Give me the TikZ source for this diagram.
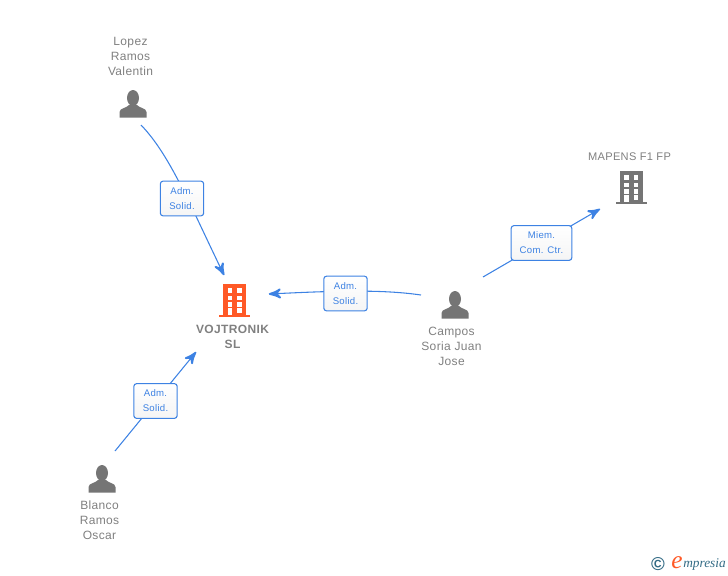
\documentclass[tikz,border=0pt]{standalone}
\usepackage{fontspec}
\setmainfont{Liberation Sans}[LetterSpace=3]
\newfontfamily\logofont{Liberation Serif}
\usetikzlibrary{arrows}
\usetikzlibrary{decorations.markings}
\definecolor{mblue}{rgb}{0.24, 0.51, 0.89}
\definecolor{mgrey}{rgb}{0.46, 0.46, 0.46}
\definecolor{mtext}{rgb}{0.5, 0.5, 0.5}
\definecolor{morange}{rgb}{1, 0.35, 0.15}
\definecolor{mteal}{rgb}{0.2, 0.42, 0.52}
\tikzset{linkarrow/.style = {decoration={markings,
                                         mark=at position 1 with {\arrow[scale=1.8]{stealth'}}},
                             postaction={decorate}}}
\tikzset{link/.style = {mblue, line width=0.8pt}}
\tikzset{rolebox/.style = {draw=mblue, line width=0.8pt, rounded corners=2pt, top color=white, bottom color=black!4,
                           text=mblue, align=center, inner sep=0pt, minimum height=26pt, minimum width=32.5pt,
                           font=\fontsize{7.2}{11.25}\selectfont}}
\tikzset{iconspot/.style = {circle, inner sep=0pt, minimum size=24pt}}
\tikzset{caption/.style = {text=mtext, align=center, inner sep=0pt, font=\fontsize{9}{11.25}\selectfont}}
\tikzset{pics/person/.style = {code={
  \fill [mgrey] (0, -6) ellipse (6 and 8);
  \fill [mgrey] (-13.5, 13.5) -- (-13.5, 8) .. controls (-13.5, 4) and (-6, 4) .. (-4, 1) -- (4, 1)
    .. controls (6, 4) and (13.5, 4) .. (13.5, 8) -- (13.5, 13.5) -- cycle;
}}}
\tikzset{pics/tower/.style = {code={
  \fill [#1] (-11.5, -16) rectangle (11.5, 15);
  \fill [#1] (-15.5, 15) rectangle (15.5, 17);
  \foreach \r in {-12, -4.5, 2} {
    \fill [white] (-7, \r) rectangle (-2.5, \r + 4.5);
    \fill [white] (2.5, \r) rectangle (7, \r + 4.5);
  }
  \fill [white] (-7, 8) rectangle (-2.5, 15);
  \fill [white] (2.5, 8) rectangle (7, 12.5);
}}}
\begin{document}
\begin{tikzpicture}[x=0.75pt, y=-0.75pt]
  \useasboundingbox (0, 0) rectangle (728, 575);

  % people and companies
  \node (lopez) [iconspot] at (133, 104) {};
  \node (blanco) [iconspot] at (102, 479) {};
  \node (campos) [iconspot] at (455, 305) {};
  \node (vojtronik) [iconspot] at (234.5, 300) {};
  \node (mapens) [iconspot] at (631, 187) {};
  \pic at (lopez) {person};
  \pic at (blanco) {person};
  \pic at (campos) {person};
  \pic at (vojtronik) {tower=morange};
  \pic at (mapens) {tower=mgrey};

  \node (lopezname) [caption] at (130.5, 56) {Lopez\\Ramos\\Valentin};
  \node (blanconame) [caption] at (99.5, 520.5) {Blanco\\Ramos\\Oscar};
  \node (camposname) [caption] at (451.5, 346.5) {Campos\\Soria Juan\\Jose};
  \node (vojtronikname) [caption, font=\fontsize{9}{11.25}\selectfont\bfseries] at (232.5, 337) {VOJTRONIK\\SL};
  \node (mapensname) [caption, font=\fontsize{8.3}{11.25}\selectfont] at (629.5, 157) {MAPENS F1 FP};

  % free ends of the links
  \coordinate (lopezout) at (141, 125);
  \coordinate (blancoout) at (115, 451);
  \coordinate (camposleft) at (421, 295);
  \coordinate (camposright) at (483, 277);
  \coordinate (vojtroniktop) at (224, 275);
  \coordinate (vojtronikbottom) at (196, 352);
  \coordinate (vojtronikright) at (269, 294);
  \coordinate (mapensin) at (600, 209);

  % links, the boxes go on top
  \draw [link, linkarrow] (lopezout) .. controls (170, 155) and (190, 205) .. (vojtroniktop);
  \draw [link, linkarrow] (blancoout) -- (vojtronikbottom);
  \draw [link, linkarrow] (camposleft) .. controls (380, 289) and (330, 291) .. (vojtronikright);
  \draw [link, linkarrow] (camposright) -- (mapensin);

  \node (lopezrole) [rolebox] at (182, 198.5) {Adm.\\Solid.};
  \node (blancorole) [rolebox] at (155.5, 401) {Adm.\\Solid.};
  \node (camposrole) [rolebox] at (345.5, 293.5) {Adm.\\Solid.};
  \node (mapensrole) [rolebox, minimum width=45.5pt] at (541.5, 243) {Miem.\\Com. Ctr.};

  % logo in the corner
  \node (logoc) [text=mteal, inner sep=0pt, font=\bfseries\fontsize{14}{14}\selectfont] at (658, 564) {\copyright};
  \node (logoe) [text=morange, inner sep=0pt, font=\logofont\itshape\fontsize{19}{19}\selectfont] at (677, 562.5) {e};
  \node (logotext) [text=mteal, inner sep=0pt, anchor=west, font=\logofont\itshape\fontsize{10}{10}\selectfont] at (683, 564.5) {mpresia};
\end{tikzpicture}
\end{document}
